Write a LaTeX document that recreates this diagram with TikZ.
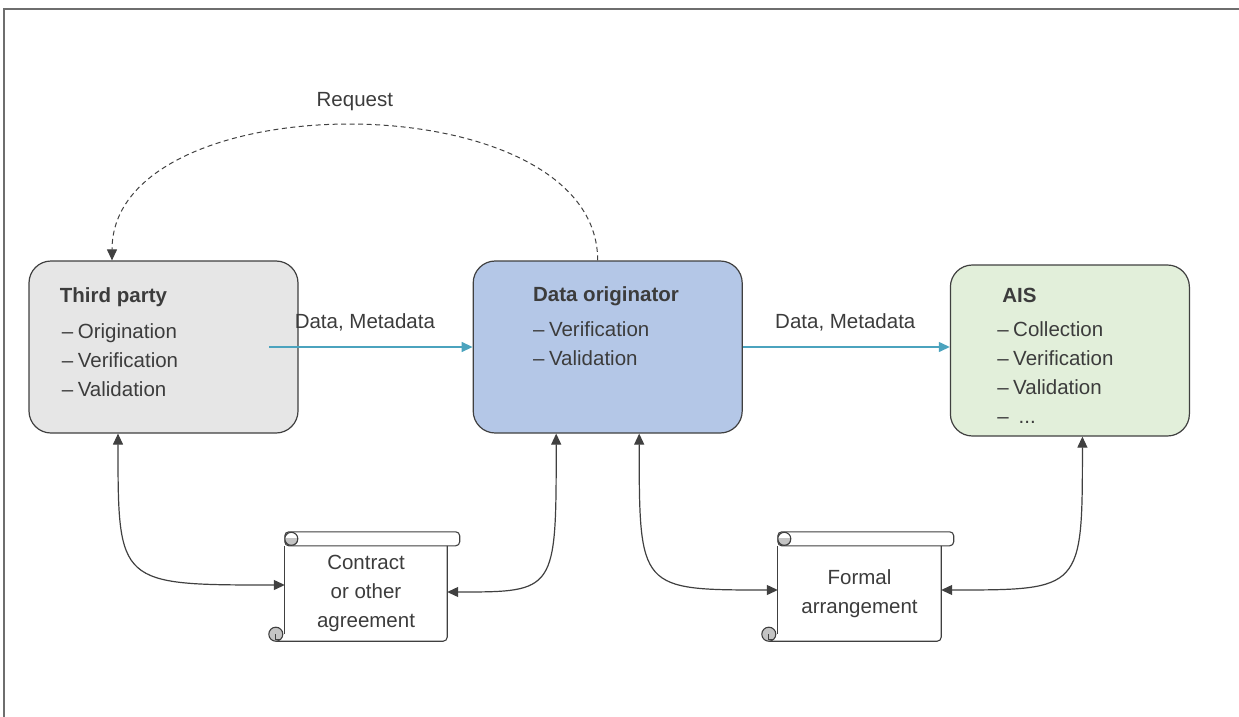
\documentclass[tikz,border=0pt]{standalone}
\usepackage{fontspec}
\setmainfont{Liberation Sans}
\usetikzlibrary{positioning,arrows.meta}
\definecolor{tpfill}{HTML}{E6E6E6}
\definecolor{dofill}{HTML}{B4C7E7}
\definecolor{aisfill}{HTML}{E2EFDA}
\definecolor{tealline}{HTML}{4BA3BE}
\definecolor{txtgray}{HTML}{3C3C3C}
\definecolor{linegray}{HTML}{404040}
\definecolor{curlgray}{HTML}{C4C4C4}
\definecolor{framegray}{HTML}{6E6E6E}

\begin{document}
\begin{tikzpicture}[x=1pt,y=-1pt,
  every node/.style={font=\fontsize{20.5}{29}\selectfont, text=txtgray},
  box/.style={draw=linegray, line width=1.2pt, rounded corners=22pt, inner sep=0pt},
  boxtitle/.style={anchor=base west, font=\fontsize{20.5}{29}\selectfont\bfseries},
  item/.style={anchor=base west},
  scrollbody/.style={align=center, inner sep=0pt, minimum width=162pt, minimum height=95pt},
  scrollline/.style={draw=linegray, line width=1.1pt},
  conn/.style={<->, draw=linegray, line width=1.2pt},
  flow/.style={->, draw=tealline, line width=1.3pt},
  >={Triangle[length=11pt,width=10pt]}]
\useasboundingbox (0,0) rectangle (1239,717);
\draw[framegray, line width=2pt] (4,717) -- (4,9.5) -- (1239,9.5);

% boxes
\node[box, fill=tpfill, minimum width=269pt, minimum height=172pt] (tp) at (163.5,347) {};
\node[box, fill=dofill, minimum width=269pt, minimum height=172pt, right=174pt of tp] (do) {};
\node[box, fill=aisfill, minimum width=239pt, minimum height=171pt, right=207pt of do, yshift=-3.5pt] (ais) {};

\node[boxtitle] (tp-title) at ([shift={(28,42)}]tp.north west) {Third party};
\foreach \t [count=\i] in {Origination, Verification, Validation}
  \node[item] (tp-\i) at ([shift={(30,49+29*\i)}]tp.north west) {–\kern4.5pt\t};
\node[boxtitle] (do-title) at ([shift={(57,41)}]do.north west) {Data originator};
\foreach \t [count=\i] in {Verification, Validation}
  \node[item] (do-\i) at ([shift={(57,47+29*\i)}]do.north west) {–\kern4.5pt\t};
\node[boxtitle] (ais-title) at ([shift={(49,38)}]ais.north west) {AIS};
\foreach \t [count=\i] in {Collection, Verification, Validation}
  \node[item] (ais-\i) at ([shift={(44,43+29*\i)}]ais.north west) {–\kern4.5pt\t};
\node[item] (ais-4) at ([shift={(44,159)}]ais.north west) {–\kern10pt...};

% scrolls
\node[scrollbody] (s1) at (366,593.5) {Contract\\or other\\agreement};
\node[scrollbody, minimum width=163pt] (s2) at (859.5,593.5) {Formal\\arrangement};
\foreach \s in {s1,s2}{
  \draw[scrollline, fill=white, rounded corners=4pt] ([shift={(0,-14)}]\s.north west) rectangle ([shift={(12.5,0)}]\s.north east);
  \draw[scrollline] (\s.north west) -- ([shift={(0,-7)}]\s.south west);
  \draw[scrollline, rounded corners=4pt] ([shift={(-9,0)}]\s.south west) -- (\s.south east) -- (\s.north east);
  \draw[scrollline, fill=white] ([shift={(6.5,-7)}]\s.north west) circle[radius=6.5pt];
  \begin{scope}
    \clip ([shift={(0,-7)}]\s.north west) rectangle ([shift={(13,0)}]\s.north west);
    \draw[scrollline, fill=curlgray] ([shift={(6.5,-7)}]\s.north west) circle[radius=6.5pt];
  \end{scope}
  \draw[scrollline, fill=curlgray] ([shift={(-9,-7)}]\s.south west) circle[radius=7pt];
  \draw[scrollline, line width=0.8pt] ([shift={(-9,-7)}]\s.south west) -- ++(0,5) -- ++(5,0);
}

% connectors
\coordinate (tp-o) at ([xshift=-29.5pt]tp.east);
\coordinate (tp-t) at ([xshift=-51.5pt]tp.north);
\coordinate (tp-b) at ([xshift=-45.5pt]tp.south);
\coordinate (do-t) at ([xshift=-10pt]do.north);
\coordinate (do-bl) at ([xshift=-51.5pt]do.south);
\coordinate (do-br) at ([xshift=31.5pt]do.south);
\coordinate (ais-b) at ([xshift=12.5pt]ais.south);
\coordinate (s1-w) at ([yshift=8.5pt]s1.west);
\coordinate (s1-e) at ([yshift=1.5pt]s1.east);
\coordinate (s2-w) at ([yshift=3.5pt]s2.west);
\coordinate (s2-e) at ([yshift=3.5pt]s2.east);

\draw[flow] (tp-o) -- (do.west) node[midway, yshift=25pt, xshift=-6pt] (lbl1) {Data, Metadata};
\draw[flow] (do.east) -- (do.east -| ais.west) node[midway, yshift=25pt, xshift=-1pt] (lbl2) {Data, Metadata};
\draw[->, draw=linegray, line width=1pt, dash pattern=on 5pt off 3.5pt] (do-t) .. controls +(0,-180) and +(0,-180) .. (tp-t) node[pos=0.5, yshift=24pt] (req) {Request};

\draw[conn] (tp-b) .. controls (tp-b |- s1-w) .. (s1-w);
\draw[conn] (s1-e) .. controls (do-bl |- s1-e) .. (do-bl);
\draw[conn] (do-br) .. controls (do-br |- s2-w) .. (s2-w);
\draw[conn] (s2-e) .. controls (ais-b |- s2-e) .. (ais-b);
\end{tikzpicture}
\end{document}
